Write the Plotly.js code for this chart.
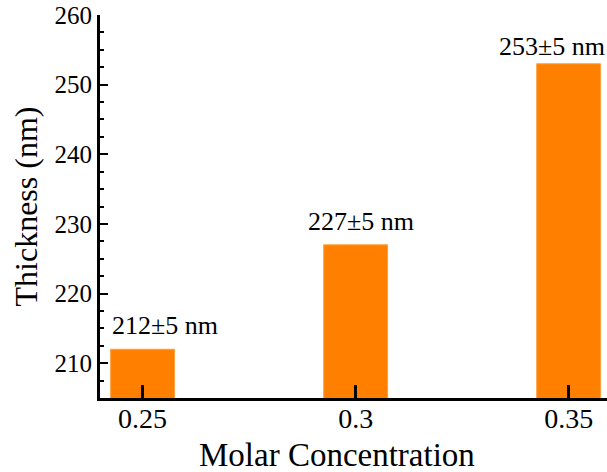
<!DOCTYPE html>
<html>
<head>
<meta charset="utf-8">
<script src="https://cdn.plot.ly/plotly-3.0.1.min.js"></script>
<style>html,body{margin:0;padding:0;background:#fff;}#chart{width:607px;height:472px;}</style>
</head>
<body>
<div id="chart"></div>
<script>
const concentrations = [0.25, 0.3, 0.35];
const thickness = [212, 227, 253];
const errorLabels = ["212±5 nm", "227±5 nm", "253±5 nm"];
const xTickVals = [0.25, 0.3, 0.35];
const xTickText = ["0.25", "0.3", "0.35"];
const yTickVals = [210, 220, 230, 240, 250, 260];
const xTitle = "Molar Concentration";
const yTitle = "Thickness (nm)";

const serif = "Liberation Serif, Times New Roman, serif";
const labelShifts = [22, 5, -17];
const labelYShifts = [7, 7, 1];

const trace = {
  type: "bar",
  x: concentrations,
  y: thickness,
  width: 0.015,
  marker: {color: "#FF8000", line: {color: "#FFA040", width: 1}},
  hoverinfo: "none"
};

const annotations = concentrations.map((c, i) => ({
  x: c, y: thickness[i], xref: "x", yref: "y",
  text: errorLabels[i], showarrow: false,
  xanchor: "center", yanchor: "bottom",
  xshift: labelShifts[i], yshift: labelYShifts[i],
  font: {family: serif, size: 26, color: "#000"}
}));

annotations.push({
  x: 0.467, y: 0, xref: "paper", yref: "paper",
  yanchor: "top", xanchor: "center", yshift: -40,
  height: 30, valign: "middle",
  text: xTitle, showarrow: false,
  font: {family: serif, size: 33, color: "#000"}
});

const layout = {
  width: 607, height: 472,
  margin: {l: 100, r: 0, t: 15, b: 74},
  paper_bgcolor: "#fff", plot_bgcolor: "#fff",
  showlegend: false,
  xaxis: {
    range: [0.24, 0.359],
    tickvals: xTickVals, ticktext: xTickText,
    ticks: "inside", ticklen: 13, tickwidth: 3, tickcolor: "#000",
    ticklabelposition: "outside", ticklabelstandoff: -7,
    showline: true, linewidth: 3, linecolor: "#000",
    showgrid: false, zeroline: false,
    tickfont: {family: serif, size: 28, color: "#000"}
  },
  yaxis: {
    range: [205, 260],
    tickvals: yTickVals,
    ticks: "inside", ticklen: 8, tickwidth: 2, tickcolor: "#000",
    minor: {dtick: 2.5, ticks: "inside", ticklen: 4, tickwidth: 2, tickcolor: "#000"},
    showline: true, linewidth: 3, linecolor: "#000",
    showgrid: false, zeroline: false,
    tickfont: {family: serif, size: 25, color: "#000"},
    title: {text: yTitle, font: {family: serif, size: 32, color: "#000"}, standoff: 8}
  },
  xaxis2: {
    overlaying: "x", side: "top", anchor: "y",
    range: [0.24, 0.359],
    tick0: 0.26, dtick: 0.02,
    ticks: "inside", ticklen: 6, tickwidth: 2, tickcolor: "#000",
    minor: {dtick: 0.004, ticks: "inside", ticklen: 3, tickwidth: 2, tickcolor: "#000"},
    showticklabels: false,
    showline: true, linewidth: 3, linecolor: "#000",
    showgrid: false, zeroline: false
  },
  yaxis2: {
    overlaying: "y", side: "right", anchor: "x",
    range: [-1.6, 23.76],
    tick0: 0, dtick: 4,
    ticks: "inside", ticklen: 7, tickwidth: 2, tickcolor: "#000",
    minor: {dtick: 1, ticks: "inside", ticklen: 4, tickwidth: 2, tickcolor: "#000"},
    showticklabels: false,
    showline: false,
    showgrid: false, zeroline: false
  },
  annotations: annotations
};

Plotly.newPlot("chart", [trace], layout, {staticPlot: true, displayModeBar: false});
</script>
</body>
</html>
